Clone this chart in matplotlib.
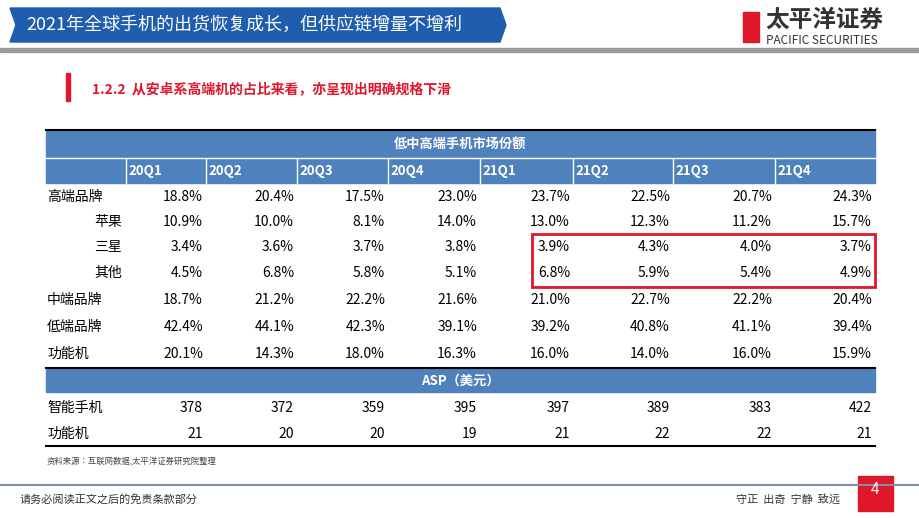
import matplotlib
matplotlib.use("Agg")
import matplotlib.pyplot as plt
from matplotlib import font_manager as fm
from matplotlib.patches import Rectangle, Polygon

names = sorted({f.name for f in fm.fontManager.ttflist})
cjk = [n for n in names if "CJK" in n]
fam = "Noto Sans CJK SC" if "Noto Sans CJK SC" in cjk else (cjk[0] if cjk else "DejaVu Sans")
plt.rcParams["font.family"] = [fam, "DejaVu Sans"]

quarters = ["20Q1", "20Q2", "20Q3", "20Q4", "21Q1", "21Q2", "21Q3", "21Q4"]
row_labels = ["高端品牌", "苹果", "三星", "其他", "中端品牌", "低端品牌", "功能机"]
share_high = ["18.8%", "20.4%", "17.5%", "23.0%", "23.7%", "22.5%", "20.7%", "24.3%"]
share_apple = ["10.9%", "10.0%", "8.1%", "14.0%", "13.0%", "12.3%", "11.2%", "15.7%"]
share_samsung = ["3.4%", "3.6%", "3.7%", "3.8%", "3.9%", "4.3%", "4.0%", "3.7%"]
share_other = ["4.5%", "6.8%", "5.8%", "5.1%", "6.8%", "5.9%", "5.4%", "4.9%"]
share_mid = ["18.7%", "21.2%", "22.2%", "21.6%", "21.0%", "22.7%", "22.2%", "20.4%"]
share_low = ["42.4%", "44.1%", "42.3%", "39.1%", "39.2%", "40.8%", "41.1%", "39.4%"]
share_feature = ["20.1%", "14.3%", "18.0%", "16.3%", "16.0%", "14.0%", "16.0%", "15.9%"]
asp_labels = ["智能手机", "功能机"]
asp_smart = [378, 372, 359, 395, 397, 389, 383, 422]
asp_feature = [21, 20, 20, 19, 21, 22, 22, 21]

W, H = 920, 518
fig = plt.figure(figsize=(W/100, H/100), dpi=100)
ax = fig.add_axes([0, 0, 1, 1])
ax.set_xlim(0, W); ax.set_ylim(H, 0); ax.axis("off")

blue = "#4F81BD"
red = "#E0162B"
ax.add_patch(Polygon([[10, 8], [500, 8], [506, 25], [500, 42], [10, 42], [16, 25]],
                     closed=True, color="#1F5DAF"))
ax.text(26, 25, "2021年全球手机的出货恢复成长，但供应链增量不增利", color="white",
        fontsize=13, va="center", ha="left")
ax.text(765, 20, "太平洋证券", fontsize=17, fontweight="bold", color="#333333", va="center")
ax.text(766, 41, "PACIFIC SECURITIES", fontsize=8.5, color="#333333", va="center")
ax.add_patch(Rectangle((743, 12), 16, 30, color=red))
ax.add_patch(Rectangle((0, 48), W, 4, color="#9A9A9A"))
ax.add_patch(Rectangle((66, 73), 4, 28, color=red))
ax.text(92, 89, "1.2.2  从安卓系高端机的占比来看，亦呈现出明确规格下滑", color=red,
        fontsize=10, fontweight="bold", va="center")

cols = [46, 126, 206, 297, 388, 480, 573, 673, 775, 875]
L, R = cols[0], cols[-1]
ax.plot([L, R], [130, 130], color="black", lw=1.5)
ax.add_patch(Rectangle((L, 131), R-L, 26, color=blue))
ax.text((L+R)/2, 144, "低中高端手机市场份额", color="white", fontsize=9.5,
        fontweight="bold", ha="center", va="center")
ax.add_patch(Rectangle((L, 158), R-L, 25, color=blue))
ax.plot([L, R], [157.5, 157.5], color="white", lw=1)
for i, q in enumerate(quarters):
    x0 = cols[i+1]
    ax.plot([x0, x0], [158, 183], color="white", lw=1)
    ax.text(x0+2, 170.5, q, color="white", fontsize=9.5, fontweight="bold",
            ha="left", va="center")

rows = [share_high, share_apple, share_samsung, share_other, share_mid, share_low, share_feature]
ys = [197, 222, 247, 273, 300, 327, 354]
for lab, vals, y in zip(row_labels, rows, ys):
    if lab in ("苹果", "三星", "其他"):
        ax.text(122, y, lab, fontsize=10, ha="right", va="center")
    else:
        ax.text(47, y, lab, fontsize=10, ha="left", va="center")
    for i, v in enumerate(vals):
        ax.text(cols[i+2]-3, y, v, fontsize=10, ha="right", va="center")

ax.add_patch(Rectangle((532, 234), R-532, 53, fill=False, edgecolor=red, lw=2))

ax.plot([L, R], [368, 368], color="black", lw=1.5)
ax.add_patch(Rectangle((L, 369), R-L, 23, color=blue))
ax.text((L+R)/2, 380.5, "ASP（美元）", color="white", fontsize=9.5, fontweight="bold",
        ha="center", va="center")
for lab, vals, y in zip(asp_labels, [asp_smart, asp_feature], [408, 434]):
    ax.text(47, y, lab, fontsize=10, ha="left", va="center")
    for i, v in enumerate(vals):
        ax.text(cols[i+2]-3, y, str(v), fontsize=10, ha="right", va="center")
ax.plot([L, R], [446, 446], color="black", lw=1.5)
ax.text(47, 462, "资料来源：互联网数据,太平洋证券研究院整理", fontsize=6, color="#444444",
        ha="left", va="center")

ax.plot([0, W], [485, 485], color="#7F8FA6", lw=1.5)
ax.text(20, 499, "请务必阅读正文之后的免责条款部分", fontsize=8, color="#333333", va="center")
ax.text(736, 499, "守正  出奇  宁静  致远", fontsize=8, color="#333333", va="center")
ax.add_patch(Rectangle((858, 476), 35, 35, color=red))
ax.text(875.5, 490, "4", color="white", fontsize=11, ha="center", va="center")

fig.savefig("out.png", dpi=100)
